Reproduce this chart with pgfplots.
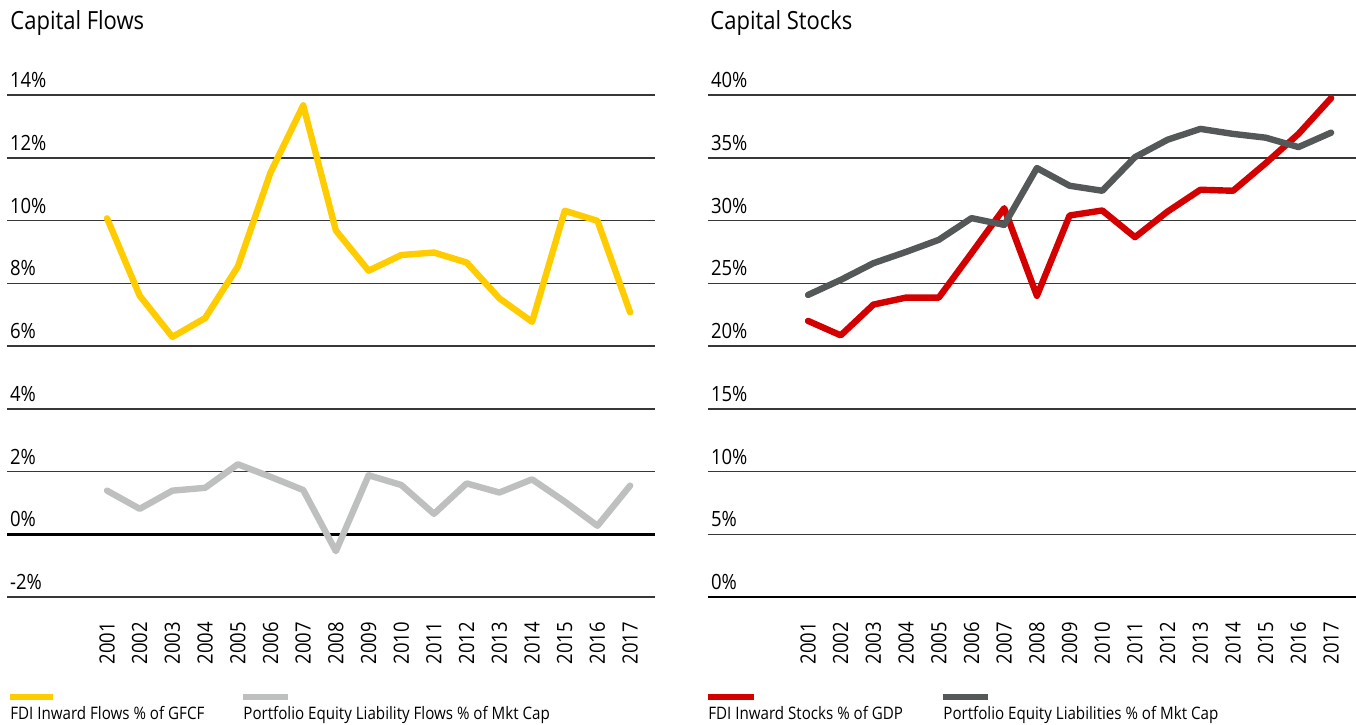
\documentclass[border=0pt]{standalone}
\usepackage{fontspec}
\setmainfont{Open Sans}[FakeStretch=0.88]
\usepackage{pgfplots}
\usepackage{pgfplotstable}
\pgfplotsset{compat=1.18}
\definecolor{cyellow}{RGB}{255,204,0}
\definecolor{clgray}{RGB}{190,192,191}
\definecolor{cred}{RGB}{212,0,0}
\definecolor{cdgray}{RGB}{84,88,89}
\definecolor{cgrid}{RGB}{55,55,55}

\pgfplotstableread{
year fdi pe
2001 10.07 1.39
2002 7.60 0.81
2003 6.29 1.39
2004 6.89 1.48
2005 8.53 2.23
2006 11.53 1.83
2007 13.67 1.41
2008 9.68 -0.54
2009 8.40 1.88
2010 8.90 1.57
2011 8.98 0.65
2012 8.66 1.62
2013 7.52 1.33
2014 6.77 1.75
2015 10.31 1.04
2016 9.99 0.27
2017 7.07 1.55
}\flows

\pgfplotstableread{
year fdi pe
2001 22.0 24.07
2002 20.85 25.27
2003 23.3 26.6
2004 23.86 27.5
2005 23.86 28.46
2006 27.4 30.19
2007 30.98 29.65
2008 24.0 34.18
2009 30.4 32.77
2010 30.8 32.37
2011 28.67 35.05
2012 30.72 36.44
2013 32.45 37.3
2014 32.37 36.9
2015 34.57 36.6
2016 36.9 35.85
2017 39.76 37.0
}\stocks

\pgfplotsset{
  panel/.style={
    scale only axis, width=324pt, height=251pt, anchor=south west,
    xmin=1997.94, xmax=2017.76,
    axis line style={draw=none},
    major tick length=0pt,
    xtick={2001,2002,...,2017},
    /pgf/number format/1000 sep={},
    /pgf/number format/assume math mode=true,
    xticklabel style={rotate=90, anchor=east, font=\fontsize{10.5}{12}\selectfont},
    xticklabel shift=9pt,
    yticklabel style={anchor=south west, font=\fontsize{10.5}{12}\selectfont, xshift=-2pt},
    ymajorgrids, grid style={cgrid, line width=0.75pt},
    extra y tick style={grid style={black, line width=1.3pt}},
    clip=false,
    every axis plot/.append style={line width=3.2pt, line join=round, line cap=round},
  }
}

\begin{document}
\begin{tikzpicture}
\useasboundingbox (0,0) rectangle (678pt,362pt);

\begin{axis}[panel, at={(3.5pt,63.5pt)},
  ymin=-2, ymax=14,
  ytick={-2,2,4,6,8,10,12,14},
  yticklabels={-2\%,2\%,4\%,6\%,8\%,10\%,12\%,14\%},
  extra y ticks={0}, extra y tick labels={0\%}]
\addplot[cyellow] table[x=year,y=fdi]{\flows};
\addplot[clgray] table[x=year,y=pe]{\flows};
\end{axis}

\begin{axis}[panel, at={(354pt,63.5pt)},
  ymin=0, ymax=40,
  ytick={5,10,15,20,25,30,35,40},
  yticklabels={5\%,10\%,15\%,20\%,25\%,30\%,35\%,40\%},
  extra y ticks={0}, extra y tick labels={0\%}]
\addplot[cred] table[x=year,y=fdi]{\stocks};
\addplot[cdgray] table[x=year,y=pe]{\stocks};
\end{axis}

\node[anchor=base west, inner sep=0pt, font=\fontsize{12.5}{14}\selectfont] at (5pt,347pt) {Capital Flows};
\node[anchor=base west, inner sep=0pt, font=\fontsize{12.5}{14}\selectfont] at (355pt,347pt) {Capital Stocks};

\draw[cyellow, line width=3pt] (5pt,13.5pt) -- (26.5pt,13.5pt);
\node[anchor=base west, inner sep=0pt, font=\fontsize{8.6}{11}\selectfont] at (5pt,2.5pt) {FDI Inward Flows \% of GFCF};
\draw[clgray, line width=3pt] (121.5pt,13.5pt) -- (144pt,13.5pt);
\node[anchor=base west, inner sep=0pt, font=\fontsize{8.6}{11}\selectfont] at (121.5pt,2.5pt) {Portfolio Equity Liability Flows \% of Mkt Cap};
\draw[cred, line width=3pt] (354pt,13.5pt) -- (377pt,13.5pt);
\node[anchor=base west, inner sep=0pt, font=\fontsize{8.6}{11}\selectfont] at (354pt,2.5pt) {FDI Inward Stocks \% of GDP};
\draw[cdgray, line width=3pt] (471.5pt,13.5pt) -- (494pt,13.5pt);
\node[anchor=base west, inner sep=0pt, font=\fontsize{8.6}{11}\selectfont] at (471.5pt,2.5pt) {Portfolio Equity Liabilities \% of Mkt Cap};
\end{tikzpicture}
\end{document}
